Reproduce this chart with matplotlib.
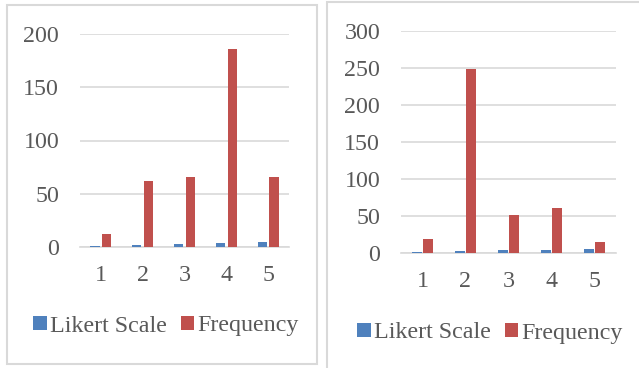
import matplotlib.pyplot as plt
import numpy as np
from matplotlib.patches import Rectangle

plt.rcParams['font.family'] = ['Liberation Serif', 'DejaVu Serif']

# Likert scale responses (1..5) and how often each was chosen
categories = ['1', '2', '3', '4', '5']
likert_scale = [1, 2, 3, 4, 5]
freq_left = [12, 62, 66, 186, 66]
freq_right = [18, 249, 51, 60, 14]

BLUE = '#4f81bd'
RED = '#c0504d'
GRID = '#d9d9d9'
TXT = '#595959'
FS = 17.3

W, H = 639, 368
fig = plt.figure(figsize=(W / 100, H / 100), dpi=100)


def px_axes(x0, y_top, x1, y_bot):
    # axes from pixel coords (top-left origin)
    return fig.add_axes([x0 / W, 1 - y_bot / H, (x1 - x0) / W, (y_bot - y_top) / H])


def draw(ax, freq, ymax, step, bw, off, leg_xy):
    x = np.arange(len(categories))
    ax.bar(x - off, likert_scale, bw, color=BLUE, label='Likert Scale', zorder=3)
    ax.bar(x + off, freq, bw, color=RED, label='Frequency', zorder=3)
    ax.set_xlim(-0.5, len(categories) - 0.5)
    ax.set_ylim(0, ymax)
    ax.set_yticks(np.arange(0, ymax + 1, step))
    ax.set_xticks(x)
    ax.set_xticklabels(categories)
    ax.yaxis.grid(True, color=GRID, linewidth=1.2, zorder=0)
    ax.set_axisbelow(True)
    for s in ['top', 'right', 'left']:
        ax.spines[s].set_visible(False)
    ax.spines['bottom'].set_color(GRID)
    ax.spines['bottom'].set_linewidth(1.2)
    ax.tick_params(axis='both', length=0, labelsize=FS, labelcolor=TXT)
    ax.tick_params(axis='y', pad=15)
    ax.tick_params(axis='x', pad=13)
    ax.set_facecolor('none')
    leg = ax.legend(loc='center', bbox_to_anchor=(leg_xy[0] / W, 1 - leg_xy[1] / H),
                    bbox_transform=fig.transFigure, ncol=2, frameon=False,
                    fontsize=FS, handlelength=0.56, handleheight=0.56,
                    handletextpad=0.12, columnspacing=0.6, borderpad=0)
    for t in leg.get_texts():
        t.set_color(TXT)


# panel frames
fig.patches.append(Rectangle((7 / W, 1 - 364 / H), 310 / W, 359 / H, transform=fig.transFigure,
                             fill=False, edgecolor=GRID, linewidth=1.5))
fig.patches.append(Rectangle((327 / W, -0.1), 0.6, 1 - 2 / H + 0.1, transform=fig.transFigure,
                             fill=False, edgecolor=GRID, linewidth=1.5))

ax1 = px_axes(80, 34, 289, 247)
draw(ax1, freq_left, 200, 50, 0.22, 0.14, (166, 326))

ax2 = px_axes(401, 31, 616, 252.7)
draw(ax2, freq_right, 300, 50, 0.245, 0.13, (490, 333))

fig.savefig('out.png', dpi=100)
